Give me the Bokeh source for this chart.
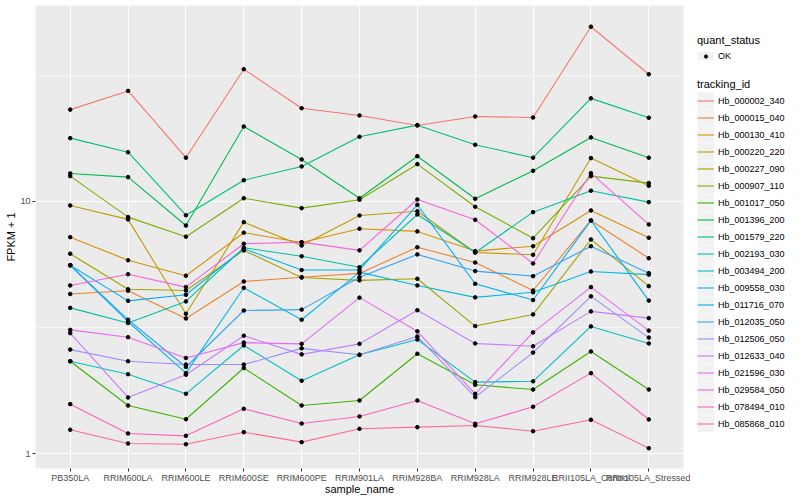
from bokeh.plotting import figure
from bokeh.layouts import row
from bokeh.models import (FactorRange, Range1d, FixedTicker, Legend, LegendItem,
                          ColumnDataSource, BasicTickFormatter)
from bokeh.embed import file_html
from bokeh.resources import INLINE

samples = ["PB350LA", "RRIM600LA", "RRIM600LE", "RRIM600SE", "RRIM600PE", "RRIM901LA",
           "RRIM928BA", "RRIM928LA", "RRIM928LE", "RRII105LA_Control", "RRII105LA_Stressed"]

tracking_ids = ["Hb_000002_340", "Hb_000015_040", "Hb_000130_410", "Hb_000220_220",
                "Hb_000227_090", "Hb_000907_110", "Hb_001017_050", "Hb_001396_200",
                "Hb_001579_220", "Hb_002193_030", "Hb_003494_200", "Hb_009558_030",
                "Hb_011716_070", "Hb_012035_050", "Hb_012506_050", "Hb_012633_040",
                "Hb_021596_030", "Hb_029584_050", "Hb_078494_010", "Hb_085868_010"]

colors = ["#F8766D", "#EA8331", "#D89000", "#C09B00", "#A3A500", "#7CAE00", "#39B600",
          "#00BB4E", "#00BF7D", "#00C1A3", "#00BFC4", "#00BAE0", "#00B0F6", "#35A2FF",
          "#9590FF", "#C77CFF", "#E76BF3", "#FA62DB", "#FF62BC", "#FF6C91"]

# FPKM + 1 per tracking_id, in sample order
hb_000002_340 = [23.1, 27.4, 14.9, 33.4, 23.4, 21.9, 20.0, 21.7, 21.5, 49.2, 31.9]
hb_000015_040 = [4.30, 4.43, 3.44, 4.82, 5.01, 5.19, 6.59, 5.73, 4.44, 8.41, 5.96]
hb_000130_410 = [7.22, 5.85, 5.08, 7.52, 6.88, 7.80, 7.61, 6.36, 6.65, 9.21, 7.18]
hb_000220_220 = [9.64, 8.49, 3.59, 8.28, 6.69, 8.80, 9.15, 6.28, 6.15, 14.85, 11.54]
hb_000227_090 = [6.21, 4.49, 4.44, 6.40, 5.00, 4.87, 4.94, 3.21, 3.57, 7.07, 4.62]
hb_000907_110 = [12.60, 8.67, 7.25, 10.30, 9.41, 10.16, 14.05, 9.53, 7.15, 12.60, 11.82]
hb_001017_050 = [2.33, 1.556, 1.373, 2.19, 1.556, 1.629, 2.494, 1.879, 1.80, 2.546, 1.80]
hb_001396_200 = [12.91, 12.48, 8.03, 19.8, 14.67, 10.30, 15.11, 10.25, 13.23, 17.93, 14.90]
hb_001579_220 = [17.81, 15.67, 8.82, 12.14, 13.76, 18.04, 20.05, 16.77, 14.9, 25.6, 21.45]
hb_002193_030 = [3.79, 3.30, 4.02, 6.56, 6.07, 5.49, 8.88, 6.28, 9.07, 11.03, 9.94]
hb_003494_200 = [2.33, 2.07, 1.731, 2.69, 1.95, 2.47, 2.84, 1.925, 1.94, 3.20, 2.74]
hb_009558_030 = [5.59, 3.34, 2.09, 4.55, 3.40, 5.25, 4.65, 4.17, 4.37, 5.28, 5.13]
hb_011716_070 = [5.59, 4.04, 4.27, 6.50, 5.35, 5.36, 9.70, 4.72, 4.07, 8.41, 4.05]
hb_012035_050 = [5.59, 3.40, 2.21, 3.70, 3.73, 5.01, 6.17, 5.30, 5.06, 6.65, 5.20]
hb_012506_050 = [2.59, 2.33, 2.26, 2.26, 2.62, 2.47, 2.92, 1.679, 2.52, 4.21, 2.89]
hb_012633_040 = [3.01, 1.674, 2.06, 2.94, 2.48, 2.73, 3.71, 2.74, 2.67, 3.67, 3.45]
hb_021596_030 = [3.10, 2.90, 2.40, 2.76, 2.73, 4.16, 3.06, 1.731, 3.03, 4.58, 3.08]
hb_029584_050 = [4.65, 5.15, 4.58, 6.80, 6.90, 6.40, 10.18, 8.46, 5.68, 12.94, 8.11]
hb_078494_010 = [1.575, 1.206, 1.180, 1.51, 1.32, 1.408, 1.629, 1.317, 1.538, 2.09, 1.37]
hb_085868_010 = [1.247, 1.10, 1.093, 1.22, 1.114, 1.258, 1.277, 1.297, 1.231, 1.366, 1.054]

series = [hb_000002_340, hb_000015_040, hb_000130_410, hb_000220_220, hb_000227_090,
          hb_000907_110, hb_001017_050, hb_001396_200, hb_001579_220, hb_002193_030,
          hb_003494_200, hb_009558_030, hb_011716_070, hb_012035_050, hb_012506_050,
          hb_012633_040, hb_021596_030, hb_029584_050, hb_078494_010, hb_085868_010]

quant_status = ["OK"]

FONT = "Liberation Sans"
NAN = float("nan")

p = figure(x_range=FactorRange(factors=samples, range_padding=0.1, range_padding_units="absolute"),
           y_range=Range1d(0.876, 59.7), y_axis_type="log",
           width=690, height=500, output_backend="svg", toolbar_location=None,
           min_border_left=35, min_border_right=7, min_border_top=5, min_border_bottom=32)

p.background_fill_color = "#EBEBEB"
p.border_fill_color = "white"
p.outline_line_color = None

p.yaxis.ticker = FixedTicker(ticks=[1, 10, 100], minor_ticks=[10 ** 0.5, 10 ** 1.5])
p.yaxis.formatter = BasicTickFormatter()
p.xgrid.grid_line_color = "white"
p.xgrid.grid_line_width = 1.1
p.ygrid.grid_line_color = "white"
p.ygrid.grid_line_width = 1.1
p.ygrid.minor_grid_line_color = "white"
p.ygrid.minor_grid_line_width = 0.55

for ax in (p.xaxis[0], p.yaxis[0]):
    ax.axis_line_color = None
    ax.major_tick_line_color = "#333333"
    ax.major_tick_out = 3
    ax.major_tick_in = 0
    ax.minor_tick_line_color = None
    ax.major_label_text_color = "#4D4D4D"
    ax.major_label_text_font = FONT
    ax.major_label_text_font_size = "9px"
    ax.major_label_standoff = 1
    ax.axis_label_text_font = FONT
    ax.axis_label_text_font_size = "11px"
    ax.axis_label_text_font_style = "normal"
    ax.axis_label_text_color = "black"
    ax.axis_label_standoff = 0
p.xaxis.axis_label_standoff = -3
p.xaxis.axis_label = "sample_name"
p.yaxis.axis_label = "FPKM + 1"

for tid, col, vals in zip(tracking_ids, colors, series):
    src = ColumnDataSource(dict(x=samples, y=vals, tracking_id=[tid] * len(samples)))
    p.line("x", "y", source=src, line_color=col, line_width=1.1)

for vals in series:
    src = ColumnDataSource(dict(x=samples, y=vals))
    p.scatter("x", "y", source=src, size=3.6, color="black", marker="circle")

# legend panel (legend key proxies hold a single NaN so nothing is drawn in the panel)
lp = figure(width=110, height=500, output_backend="svg", toolbar_location=None,
            x_range=Range1d(0, 1), y_range=Range1d(0, 1),
            x_axis_location=None, y_axis_location=None,
            min_border_left=0, min_border_right=0, min_border_top=0, min_border_bottom=0)
lp.grid.visible = False
lp.outline_line_color = None
lp.background_fill_color = "white"
lp.border_fill_color = "white"

key_bg = lp.segment(x0=[NAN], y0=[NAN], x1=[NAN], y1=[NAN], line_width=17,
                    line_color="#F2F2F2", line_cap="butt")
key_pt = lp.scatter(x=[NAN], y=[NAN], size=4, color="black", marker="circle")
key_lines = [lp.line(x=[NAN], y=[NAN], line_color=c, line_width=1.1) for c in colors]

def style_legend(lg, gh=17, standoff=1):
    lg.background_fill_alpha = 0
    lg.border_line_color = None
    lg.padding = 0
    lg.margin = 0
    lg.spacing = 0
    lg.glyph_width = 17
    lg.glyph_height = gh
    lg.label_height = 17
    lg.label_standoff = 4
    lg.label_text_font = FONT
    lg.label_text_font_size = "9px"
    lg.label_text_color = "black"
    lg.title_text_font = FONT
    lg.title_text_font_size = "11px"
    lg.title_text_font_style = "normal"
    lg.title_text_color = "black"
    lg.title_standoff = standoff

lg1 = Legend(items=[LegendItem(label=quant_status[0], renderers=[key_bg, key_pt])],
             title="quant_status", location=(7, 404))
style_legend(lg1, gh=8, standoff=1)
lg2 = Legend(items=[LegendItem(label=t, renderers=[key_bg, r]) for t, r in zip(tracking_ids, key_lines)],
             title="tracking_id", location=(7, 36))
style_legend(lg2, gh=17, standoff=2)
lp.add_layout(lg1, "center")
lp.add_layout(lg2, "center")

layout = row(p, lp)
open("out.html", "w").write(file_html(layout, INLINE))
